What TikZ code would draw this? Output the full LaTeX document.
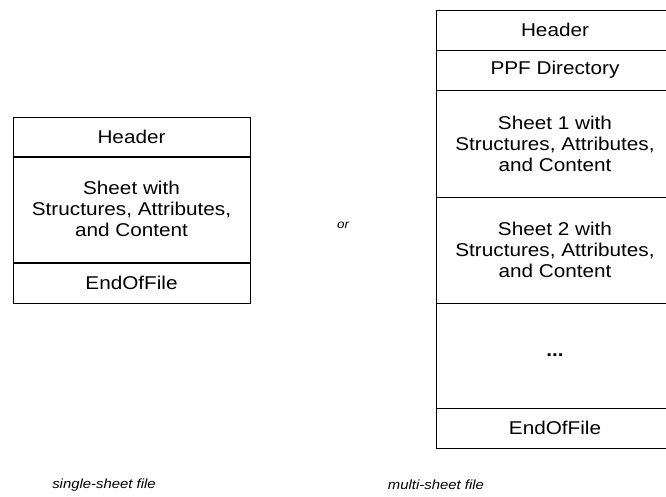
\documentclass[tikz,border=0pt]{standalone}
\usepackage{fontspec}
\setmainfont{Liberation Sans}[FakeStretch=1.12]
\begin{document}
\begin{tikzpicture}[x=1pt,y=-1pt,
  cell/.style={draw=black,line width=0.9pt,align=center,inner sep=0pt,
    font=\fontsize{18.5}{21}\selectfont},
  note/.style={font=\fontsize{13.3}{16}\selectfont\itshape}]
\useasboundingbox (0,0) rectangle (666,497);
% single-sheet layout
\node[cell,minimum width=237pt,minimum height=40pt] (h1) at (131.5,137) {Header};
\node[cell,minimum width=237pt,minimum height=106pt] (s1) at (131.5,209) {Sheet with\\Structures, Attributes,\\and Content};
\node[cell,minimum width=237pt,minimum height=40pt] (e1) at (131.5,283) {EndOfFile};
% multi-sheet layout (right side runs past the page edge)
\node[cell,minimum width=238pt,minimum height=40pt] (h2) at (555,30) {Header};
\node[cell,minimum width=238pt,minimum height=40pt] (d2) at (555,70) {PPF Directory};
\node[cell,minimum width=238pt,minimum height=107pt] (a2) at (555,143.5) {Sheet 1 with\\Structures, Attributes,\\and Content};
\node[cell,minimum width=238pt,minimum height=106pt] (b2) at (555,250) {Sheet 2 with\\Structures, Attributes,\\and Content};
\node[cell,minimum width=238pt,minimum height=105pt] (m2) at (555,355.5) {\textbf{...}};
\node[cell,minimum width=238pt,minimum height=40pt] (e2) at (555,428) {EndOfFile};
% captions
\node[note,font=\fontsize{12}{14}\selectfont\itshape] (or) at (343,225) {or};
\node[note] (c1) at (104,485) {single-sheet file};
\node[note] (c2) at (436,485) {multi-sheet file};
\end{tikzpicture}
\end{document}
